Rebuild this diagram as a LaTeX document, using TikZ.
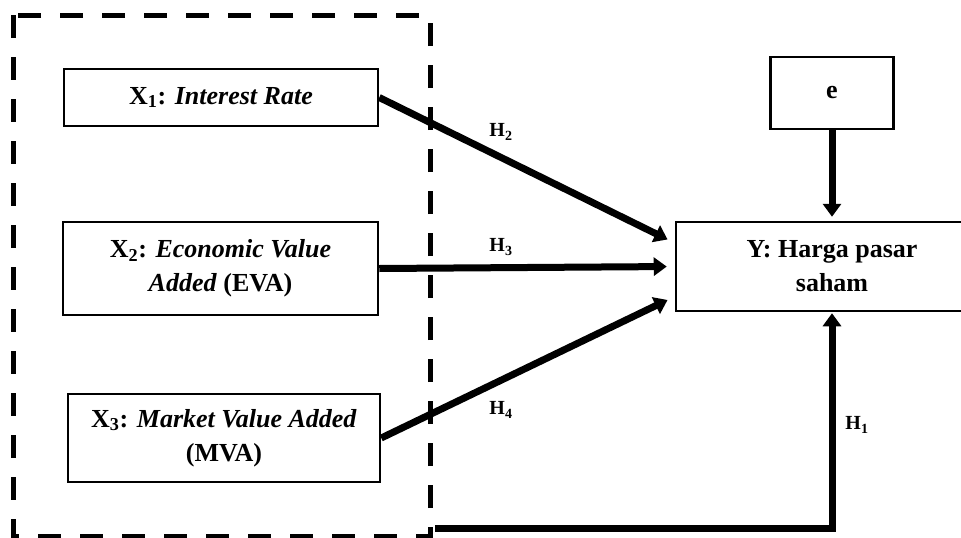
\documentclass[tikz,border=0pt]{standalone}
\usepackage{fontspec}
\setmainfont{Liberation Serif}
\usetikzlibrary{arrows.meta, positioning, calc}

\begin{document}
\begin{tikzpicture}[x=1pt, y=-1pt,
    varbox/.style={rectangle, draw, line width=2.5pt, align=center, inner sep=2pt,
        font=\fontsize{26}{34}\selectfont\bfseries},
    arr/.style={line width=7pt, -{Triangle[length=13pt, width=18pt]}},
    hlabel/.style={font=\fontsize{20}{24}\selectfont\bfseries}]
    \useasboundingbox (0,0) rectangle (961,538);
    \clip (0,0) rectangle (961,538);

    % kelompok variabel X
    \draw[line width=5pt, dash pattern=on 23pt off 19pt] (13,15) rectangle (430,536);

    % variabel
    \node[varbox, minimum width=314pt, minimum height=57pt] (x1) at (221,97.5) {X\textsubscript{1}: \textit{Interest Rate}};
    \node[varbox, minimum width=315pt, minimum height=93pt] (x2) at (220.5,268.5) {X\textsubscript{2}: \textit{Economic Value}\\\textit{Added} (EVA)};
    \node[varbox, minimum width=312pt, minimum height=88pt] (x3) at (224,438) {X\textsubscript{3}: \textit{Market Value Added}\\(MVA)};
    \node[varbox, minimum width=123pt, minimum height=72pt] (e) at (832,93) {e};
    \node[varbox, minimum width=312pt, minimum height=89pt] (y) at (832,266.5) {Y: Harga pasar\\saham};

    % hubungan
    \draw[arr, shorten >=8pt] (x1.east) -- ($(y.west)+(0,-23.5)$);
    \draw[arr, shorten >=8pt] (x2.east) -- (y.west);
    \draw[arr, shorten >=8pt] (x3.east) -- ($(y.west)+(0,30)$);
    \draw[arr, shorten >=4pt] (e.south) -- (y.north);
    \coordinate (h1start) at (435,528);
    \draw[arr, shorten >=1pt] (h1start) -| (y.south);

    \node[hlabel] (h2) at (501,132) {H\textsubscript{2}};
    \node[hlabel] (h3) at (501,247) {H\textsubscript{3}};
    \node[hlabel] (h4) at (501,410) {H\textsubscript{4}};
    \node[hlabel] (h1) at (857,425) {H\textsubscript{1}};
\end{tikzpicture}
\end{document}
